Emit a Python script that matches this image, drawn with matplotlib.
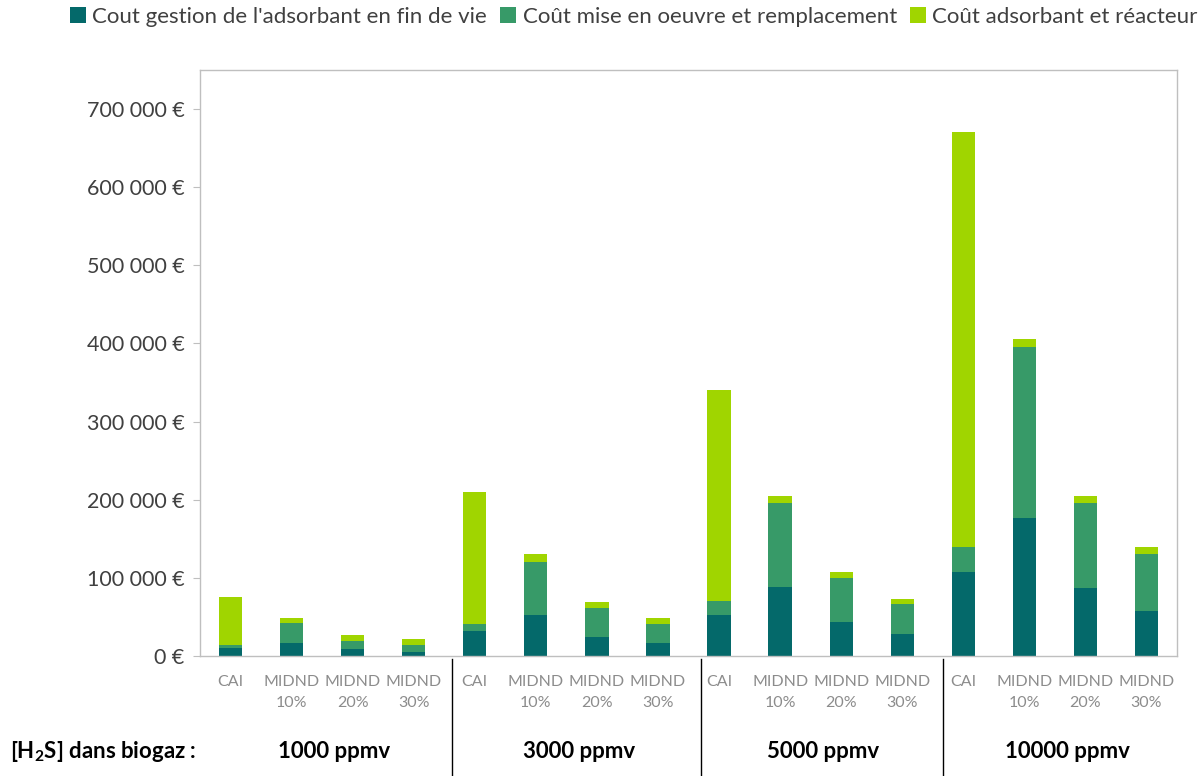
import matplotlib
matplotlib.use("Agg")
import matplotlib.pyplot as plt
import matplotlib.transforms as mtransforms
import numpy as np

plt.rcParams['font.family'] = ['Lato', 'DejaVu Sans']
plt.rcParams['mathtext.fontset'] = 'custom'
plt.rcParams['mathtext.rm'] = 'Lato'
plt.rcParams['mathtext.bf'] = 'Lato:bold'

# ---- data ----
categories = ["CAI", "MIDND\n10%", "MIDND\n20%", "MIDND\n30%"] * 4
groups = ["1000 ppmv", "3000 ppmv", "5000 ppmv", "10000 ppmv"]
series_names = ["Cout gestion de l'adsorbant en fin de vie",
                "Coût mise en oeuvre et remplacement",
                "Coût adsorbant et réacteur"]
fin_de_vie = [10000, 17000, 9000, 5000,
              32000, 52000, 24000, 17000,
              53000, 88000, 44000, 28000,
              108000, 176000, 87000, 58000]
mise_en_oeuvre = [4000, 25000, 10000, 9000,
                  9000, 68000, 37000, 24000,
                  17000, 108000, 56000, 38000,
                  31000, 220000, 109000, 73000]
adsorbant_reacteur = [61000, 7000, 8000, 8000,
                      169000, 10000, 8000, 8000,
                      270000, 9000, 8000, 7000,
                      532000, 10000, 9000, 8000]
yticks = [0, 100000, 200000, 300000, 400000, 500000, 600000, 700000]

colors = ["#04696A", "#379A68", "#A0D500"]

W, H = 1201, 776
fig = plt.figure(figsize=(W / 100, H / 100), dpi=100)
ax = fig.add_axes([200 / W, 1 - 656 / H, (1177 - 200) / W, (656 - 70) / H])

x = np.arange(len(categories))
width = 0.38
b1 = ax.bar(x, fin_de_vie, width, color=colors[0], label=series_names[0])
bottom2 = np.array(fin_de_vie)
b2 = ax.bar(x, mise_en_oeuvre, width, bottom=bottom2, color=colors[1], label=series_names[1])
bottom3 = bottom2 + np.array(mise_en_oeuvre)
b3 = ax.bar(x, adsorbant_reacteur, width, bottom=bottom3, color=colors[2], label=series_names[2])

ax.set_xlim(-0.5, len(categories) - 0.5)
ax.set_ylim(0, 750000)
ax.set_yticks(yticks)
ax.set_yticklabels([f"{v:,}".replace(",", " ") + " €" for v in yticks],
                   fontsize=15.5, color="#404040")
ax.set_xticks(x)
ax.set_xticklabels(categories, fontsize=11.5, color="#8C8C8C", linespacing=1.6, va="top")
ax.tick_params(axis="x", length=0, pad=14)
ax.tick_params(axis="y", length=5, color="#BFBFBF", pad=6)
for s in ax.spines.values():
    s.set_color("#BFBFBF")
    s.set_linewidth(1.0)

# group separators and labels
trans = mtransforms.blended_transform_factory(ax.transData, fig.transFigure)
for sx in [3.63, 7.71, 11.66]:
    ax.plot([sx, sx], [0, 1 - 659 / H], color="black", lw=1.0,
            transform=trans, clip_on=False)
for i, g in enumerate(groups):
    ax.text(4 * i + 1.7, 1 - 751 / H, g, transform=trans, ha="center", va="center",
            fontsize=16, fontweight="bold", color="black")
fig.text(10 / W, 1 - 751 / H, r"[H$_\mathbf{2}$S] dans biogaz :", ha="left", va="center",
         fontsize=16, fontweight="bold", color="black")

fig.legend(handles=[b1, b2, b3], labels=series_names, loc="center",
           bbox_to_anchor=(634 / W, 1 - 17 / H), ncol=3, frameon=False,
           fontsize=16, handlelength=0.7, handleheight=0.7, handletextpad=0.3,
           columnspacing=0.6, labelcolor="#404040")

fig.savefig("out.png", dpi=100, facecolor="white")
